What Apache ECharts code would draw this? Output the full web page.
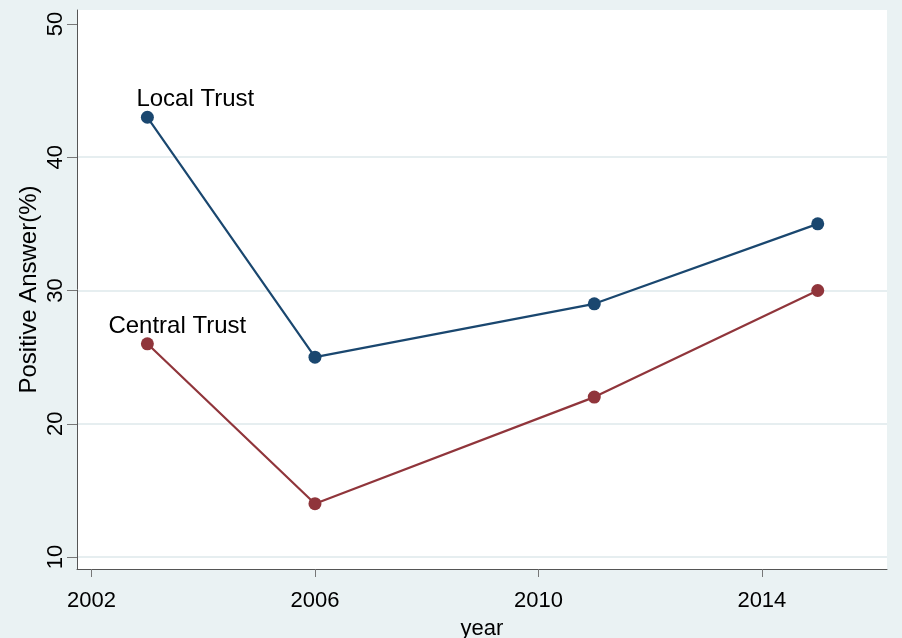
<!DOCTYPE html>
<html>
<head>
<meta charset="utf-8">
<script src="https://cdn.jsdelivr.net/npm/echarts@6/dist/echarts.min.js"></script>
<style>
html, body { margin: 0; padding: 0; background: #EAF2F3; }
#chart { width: 902px; height: 638px; }
</style>
</head>
<body>
<div id="chart"></div>
<script>
// data
var years = [2003, 2006, 2011, 2015];
var localTrust = [43, 25, 29, 35];
var centralTrust = [26, 14, 22, 30];
var seriesNames = ['Local Trust', 'Central Trust'];
var xTicks = [2002, 2006, 2010, 2014];
var yTicks = [10, 20, 30, 40, 50];
var gridValues = [10, 20, 30, 40];

var font = 'Liberation Sans, Arial, sans-serif';

function pairs(ys) {
    return ys.map(function (v, i) { return [years[i], v]; });
}

var myChart = echarts.init(document.getElementById('chart'));
var option = {
    backgroundColor: '#EAF2F3',
    animation: false,
    grid: {
        left: 77, right: 15, top: 10, bottom: 69,
        outerBoundsMode: 'none',
        containLabel: false,
        show: true, backgroundColor: '#ffffff', borderWidth: 0
    },
    xAxis: {
        type: 'value',
        min: 2001.74,
        max: 2016.24,
        name: 'year',
        nameLocation: 'middle',
        nameGap: 49,
        nameMoveOverlap: false,
        nameTextStyle: { color: '#000', fontSize: 22, fontFamily: font },
        axisLine: { show: true, lineStyle: { color: '#555', width: 1 } },
        axisTick: { show: true, length: 8, customValues: xTicks, lineStyle: { color: '#777' } },
        axisLabel: {
            customValues: xTicks, color: '#000', fontSize: 22, fontFamily: font, margin: 21,
            formatter: function (v) { return String(v); }
        },
        splitLine: { show: false }
    },
    yAxis: {
        type: 'value',
        min: 9.1,
        max: 51.05,
        name: 'Positive Answer(%)',
        nameLocation: 'middle',
        nameRotate: 90,
        nameGap: 36,
        nameMoveOverlap: false,
        nameTextStyle: { color: '#000', fontSize: 24, fontFamily: font },
        axisLine: { show: true, lineStyle: { color: '#555', width: 1 } },
        axisTick: { show: true, length: 10, customValues: yTicks, lineStyle: { color: '#777' } },
        axisLabel: { customValues: yTicks, rotate: 90, color: '#000', fontSize: 22, fontFamily: font, margin: 10 },
        splitLine: { show: false }
    },
    series: [
        {
            // light horizontal grid lines
            type: 'line',
            data: [],
            z: 0,
            silent: true,
            markLine: {
                silent: true,
                z: 0,
                symbol: 'none',
                label: { show: false },
                lineStyle: { color: '#E6EEF0', width: 2, type: 'solid' },
                data: gridValues.map(function (v) { return { yAxis: v }; })
            }
        },
        {
            name: seriesNames[0],
            type: 'line',
            z: 5,
            data: pairs(localTrust).map(function (p, i) {
                return i === 0 ? { value: p, label: { show: true, position: 'top', align: 'left', offset: [-11, 3] } } : p;
            }),
            symbol: 'circle',
            symbolSize: 13,
            itemStyle: { color: '#1A476F' },
            lineStyle: { color: '#1A476F', width: 2.2 },
            label: { show: false, formatter: seriesNames[0], color: '#000', fontSize: 24, fontFamily: font, distance: 2 }
        },
        {
            name: seriesNames[1],
            type: 'line',
            z: 5,
            data: pairs(centralTrust).map(function (p, i) {
                return i === 0 ? { value: p, label: { show: true, position: 'top', align: 'left', offset: [-39, 3] } } : p;
            }),
            symbol: 'circle',
            symbolSize: 13,
            itemStyle: { color: '#90353B' },
            lineStyle: { color: '#90353B', width: 2.2 },
            label: { show: false, formatter: seriesNames[1], color: '#000', fontSize: 24, fontFamily: font, distance: 2 }
        }
    ]
};
myChart.setOption(option);
</script>
</body>
</html>
